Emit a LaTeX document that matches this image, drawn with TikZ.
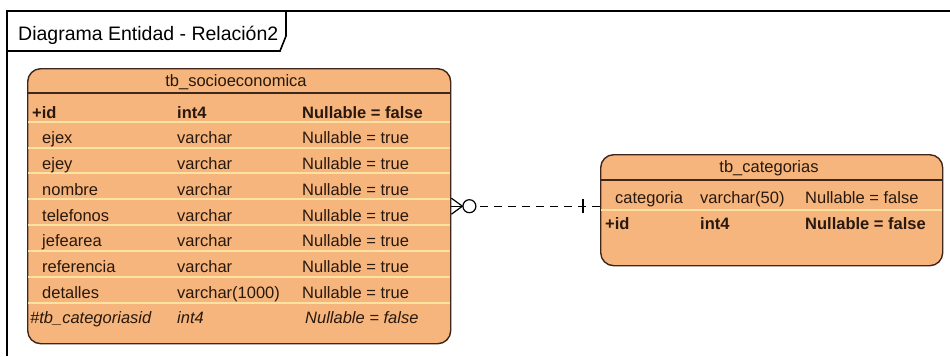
\documentclass[tikz,border=0pt]{standalone}
\usepackage{fontspec}
\setmainfont{Liberation Sans}
\usetikzlibrary{calc}
\definecolor{entfill}{RGB}{246,181,124}
\definecolor{entline}{RGB}{62,38,28}
\definecolor{rowline}{RGB}{250,226,160}
\definecolor{cellink}{RGB}{40,24,14}
\tikzset{
  entity/.style={draw=entline, line width=1.4pt, fill=entfill, rounded corners=13pt,
                 anchor=north west, inner sep=0pt},
  hdrline/.style={draw=entline, line width=1.2pt},
  rowsep/.style={draw=rowline, line width=1.2pt},
  cell/.style={anchor=base west, inner sep=0pt, text=cellink,
               font=\fontsize{16.5}{19}\selectfont},
  hdrtext/.style={anchor=base, inner sep=0pt, text=cellink,
               font=\fontsize{16.5}{19}\selectfont},
  frameline/.style={draw=black, line width=1.6pt},
  rel/.style={draw=black, line width=1.2pt},
}
\begin{document}
\begin{tikzpicture}[x=1pt,y=-1pt]
\useasboundingbox (0,0) rectangle (950,356);

% diagram frame and its name tab
\draw[frameline] (950,11) -- (7,11) -- (7,356);
\draw[frameline, fill=white] (7,11) -- (286,11) -- (286,36) -- (280,51) -- (7,51) -- cycle;
\node[anchor=base west, inner sep=0pt, font=\fontsize{19.5}{22}\selectfont] (title)
  at (18,40) {Diagrama Entidad - Relación2};

% ---------- tb_socioeconomica ----------
\node[entity, minimum width=423pt, minimum height=275pt] (soc) at (27,68) {};
\node[hdrtext] (soc-name) at (236,86) {tb\_socioeconomica};
\draw[hdrline] (soc.west |- 0,93) -- (soc.east |- 0,93);
\foreach \y in {122,148,173,199,225,251,277,303}
  \draw[rowsep] ([xshift=1pt]soc.west |- 0,\y) -- ([xshift=-1pt]soc.east |- 0,\y);

\node[cell, font=\fontsize{16.5}{19}\selectfont\bfseries] (s-id)   at (32,118) {+id};
\node[cell, font=\fontsize{16.5}{19}\selectfont\bfseries] (s-idt)  at (177,118) {int4};
\node[cell, font=\fontsize{16.5}{19}\selectfont\bfseries] (s-idn)  at (302,118) {Nullable = false};

\node[cell] (s-ejex)  at (42,143) {ejex};
\node[cell] (s-ejext) at (177,143) {varchar};
\node[cell] (s-ejexn) at (302,143) {Nullable = true};

\node[cell] (s-ejey)  at (42,169) {ejey};
\node[cell] (s-ejeyt) at (177,169) {varchar};
\node[cell] (s-ejeyn) at (302,169) {Nullable = true};

\node[cell] (s-nom)   at (42,195) {nombre};
\node[cell] (s-nomt)  at (177,195) {varchar};
\node[cell] (s-nomn)  at (302,195) {Nullable = true};

\node[cell] (s-tel)   at (42,221) {telefonos};
\node[cell] (s-telt)  at (177,221) {varchar};
\node[cell] (s-teln)  at (302,221) {Nullable = true};

\node[cell] (s-jef)   at (42,246) {jefearea};
\node[cell] (s-jeft)  at (177,246) {varchar};
\node[cell] (s-jefn)  at (302,246) {Nullable = true};

\node[cell] (s-ref)   at (42,272) {referencia};
\node[cell] (s-reft)  at (177,272) {varchar};
\node[cell] (s-refn)  at (302,272) {Nullable = true};

\node[cell] (s-det)   at (42,298) {detalles};
\node[cell] (s-dett)  at (177,298) {varchar(1000)};
\node[cell] (s-detn)  at (302,298) {Nullable = true};

\node[cell, font=\fontsize{16.5}{19}\selectfont\itshape] (s-fk)  at (30,323) {\#tb\_categoriasid};
\node[cell, font=\fontsize{16.5}{19}\selectfont\itshape] (s-fkt) at (177,323) {int4};
\node[cell, font=\fontsize{16.5}{19}\selectfont\itshape] (s-fkn) at (305,323) {Nullable = false};

% ---------- tb_categorias ----------
\node[entity, minimum width=342pt, minimum height=111pt] (cat) at (600,154) {};
\node[hdrtext] (cat-name) at (769,172) {tb\_categorias};
\draw[hdrline] (cat.west |- 0,180) -- (cat.east |- 0,180);
\draw[rowsep] ([xshift=1pt]cat.west |- 0,210) -- ([xshift=-1pt]cat.east |- 0,210);

\node[cell] (c-cat)  at (615,203) {categoria};
\node[cell] (c-catt) at (700,203) {varchar(50)};
\node[cell] (c-catn) at (805,203) {Nullable = false};

\node[cell, font=\fontsize{16.5}{19}\selectfont\bfseries] (c-id)  at (605,229) {+id};
\node[cell, font=\fontsize{16.5}{19}\selectfont\bfseries] (c-idt) at (700,229) {int4};
\node[cell, font=\fontsize{16.5}{19}\selectfont\bfseries] (c-idn) at (805,229) {Nullable = false};

% ---------- relationship: many (optional) to exactly one ----------
\coordinate (relend) at (soc.east -| cat.west);
\draw[rel] ($(soc.east)+(0,-8)$) -- ($(soc.east)+(11,0)$) -- ($(soc.east)+(0,8)$);
\draw[rel] (soc.east) -- ($(soc.east)+(11,0)$);
\draw[rel] ($(soc.east)+(18,0)$) circle[radius=6.5pt];
\draw[rel, dash pattern=on 8pt off 6pt] ($(soc.east)+(29,0)$) -- (relend);
\draw[rel] ($(relend)+(-17,-7)$) -- ($(relend)+(-17,7)$);
\end{tikzpicture}
\end{document}
